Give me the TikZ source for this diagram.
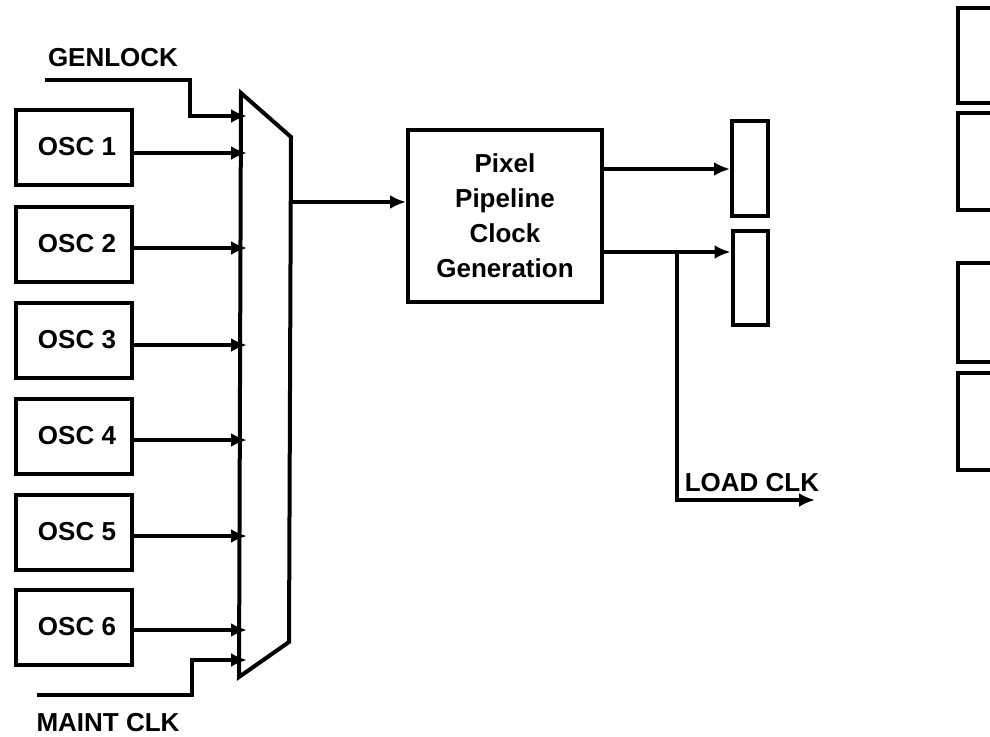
\documentclass[tikz,border=0pt]{standalone}
\usepackage{fontspec}
\setmainfont{Liberation Sans}
\usetikzlibrary{arrows.meta}
\begin{document}
\begin{tikzpicture}[x=1pt,y=-1pt,
  box/.style={draw,line width=4pt,inner sep=0pt,font=\fontsize{26}{35}\selectfont\bfseries},
  osc/.style={box,minimum width=116pt,minimum height=75pt},
  lbl/.style={inner sep=0pt,font=\fontsize{26}{35}\selectfont\bfseries},
  wire/.style={line width=3.6pt},
  arr/.style={wire,-{Latex[length=16pt,width=14pt]}}]
\useasboundingbox (0,0) rectangle (990,736);
% oscillators
\foreach \i/\y in {1/147,2/244,3/340,4/436,5/532,6/627}{
  \node[osc] (osc\i) at (74,\y) {\hspace*{6pt}OSC \i};
}
% mux
\coordinate (mtl) at (241,93);
\coordinate (mtr) at (291,137);
\coordinate (mbr) at (289,642);
\coordinate (mbl) at (239,677);
\draw[line width=4pt,line join=miter] (mtl) -- (mtr) -- (mbr) -- (mbl) -- cycle;
\foreach \i/\y in {1/153,2/248,3/345,4/440,5/536,6/630}{
  \draw[arr] (osc\i.east |- 0,\y) -- (247,\y);
}
% genlock
\node[lbl] (genlock) at (113,58) {GENLOCK};
\coordinate (g0) at (45,80);
\draw[arr] (g0) -- (190,80) -- (190,116) -- (247,116);
% maint clk
\node[lbl] (maint) at (108,723) {MAINT CLK};
\coordinate (m0) at (37,695);
\draw[arr] (m0) -- (192,695) -- (192,660) -- (247,660);
% pixel pipeline
\node[box,minimum width=194pt,minimum height=172pt,align=center] (pix) at (505,216)
  {Pixel\\Pipeline\\Clock\\Generation};
\draw[arr] (290,202) -- (pix.west |- 0,202);
% small boxes
\node[box,minimum width=36pt,minimum height=95pt] (sb1) at (750,168) {};
\node[box,minimum width=35pt,minimum height=94pt] (sb2) at (750,278) {};
\draw[arr] (pix.east |- 0,169) -- (sb1.west |- 0,169);
\draw[arr] (pix.east |- 0,252) -- (sb2.west |- 0,252);
% load clk
\coordinate (br) at (677,252);
\coordinate (lc) at (815,500);
\draw[arr] (br) |- (lc);
\node[lbl] (load) at (752,483) {LOAD CLK};
% right boxes (cut off)
\begin{scope}
\clip (0,0) rectangle (990,736);
\node[box,minimum width=50pt,minimum height=95pt] (r1) at (983,55) {};
\node[box,minimum width=50pt,minimum height=97pt] (r2) at (983,161) {};
\node[box,minimum width=50pt,minimum height=99pt] (r3) at (983,312) {};
\node[box,minimum width=50pt,minimum height=97pt] (r4) at (983,421) {};
\end{scope}
\end{tikzpicture}
\end{document}
